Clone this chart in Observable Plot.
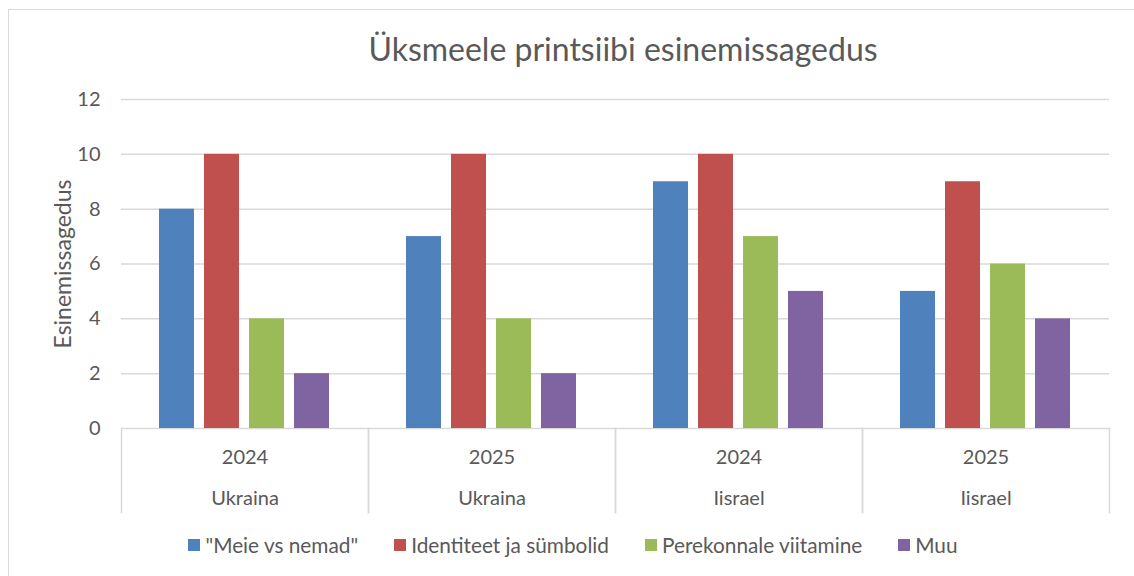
<!DOCTYPE html>
<html>
<head>
<meta charset="utf-8">
<script src="https://cdn.jsdelivr.net/npm/d3@7"></script>
<script src="https://cdn.jsdelivr.net/npm/@observablehq/plot@0.6"></script>
<style>
  html, body { margin: 0; padding: 0; background: #fff; }
  #wrap { position: relative; width: 1134px; height: 576px; overflow: hidden; font-family: Lato, "Open Sans", sans-serif; color: #595959; }
  #border { position: absolute; left: 8px; top: 9px; width: 1300px; height: 700px; border: 1.5px solid #D9D9D9; box-sizing: border-box; }
  #title { position: absolute; left: 0; width: 1246px; top: 29px; text-align: center; font-size: 32px; color: #595959; }
  #chart { position: absolute; left: 0; top: 0; }
  #legend { position: absolute; left: 0; width: 1134px; top: 532px; display: flex; justify-content: center; gap: 36px; font-size: 20.8px; margin-left: 6px; }
  .item { display: flex; align-items: center; gap: 5px; }
  .sw { width: 12px; height: 12px; display: inline-block; }
</style>
</head>
<body>
<div id="wrap">
  <div id="border"></div>
  <div id="chart"></div>
  <div id="title">Üksmeele printsiibi esinemissagedus</div>
  <div id="legend"></div>
</div>
<script>
const years = ["2024", "2025", "2024", "2025"];
const countries = ["Ukraina", "Ukraina", "Iisrael", "Iisrael"];
const seriesNames = ["\"Meie vs nemad\"", "Identiteet ja sümbolid", "Perekonnale viitamine", "Muu"];
const seriesColors = ["#4F81BD", "#C0504D", "#9BBB59", "#8064A2"];
const meieVsNemad = [8, 7, 9, 5];
const identiteet = [10, 10, 10, 9];
const perekond = [4, 4, 7, 6];
const muu = [2, 2, 5, 4];
const yTicks = [0, 2, 4, 6, 8, 10, 12];

const seriesValues = [meieVsNemad, identiteet, perekond, muu];
const groups = years.map((y, i) => `${y}|${countries[i]}|${i}`);
const data = [];
groups.forEach((g, gi) => {
  seriesNames.forEach((s, si) => {
    data.push({group: g, series: s, value: seriesValues[si][gi]});
  });
});

const grid = "#D9D9D9";
const txt = "#595959";

const chart = Plot.plot({
  width: 1134,
  height: 576,
  marginTop: 99,
  marginBottom: 148,
  marginLeft: 120,
  marginRight: 24,
  style: {fontFamily: "Lato, 'Open Sans', sans-serif", fontSize: "20px", color: txt, background: "transparent"},
  fx: {domain: groups, padding: 0},
  x: {domain: seriesNames, paddingInner: 0.214, paddingOuter: 0.847},
  y: {domain: [0, 12]},
  color: {domain: seriesNames, range: seriesColors},
  marks: [
    Plot.gridY(yTicks, {stroke: grid, strokeOpacity: 1, strokeWidth: 1.5}),
    Plot.frame({anchor: "left", stroke: grid, strokeWidth: 1.5, insetTop: 329, insetBottom: -84}),
    Plot.frame({anchor: "right", stroke: grid, strokeWidth: 1.5, insetTop: 329, insetBottom: -84}),
    Plot.barY(data, {fx: "group", x: "series", y: "value", fill: "series"}),
    Plot.axisY(yTicks, {tickSize: 0, tickPadding: 21, fontSize: 20, fill: txt,
      label: null}),
    Plot.axisY({ticks: [], label: "Esinemissagedus", labelAnchor: "center", labelArrow: "none",
      labelOffset: 67, fontSize: 23, fill: txt}),
    Plot.axisX({ticks: [], label: null}),
    Plot.axisFx({anchor: "bottom", tickSize: 0, tickPadding: 21, label: null, fontSize: 20, fill: txt,
      tickFormat: d => d.split("|")[0]}),
    Plot.axisFx({anchor: "bottom", tickSize: 0, tickPadding: 62, label: null, fontSize: 20, fill: txt,
      tickFormat: d => d.split("|")[1]})
  ]
});
document.getElementById("chart").appendChild(chart);

const legend = document.getElementById("legend");
seriesNames.forEach((s, i) => {
  const it = document.createElement("div");
  it.className = "item";
  const sw = document.createElement("span");
  sw.className = "sw";
  sw.style.background = seriesColors[i];
  const t = document.createElement("span");
  t.textContent = s;
  it.appendChild(sw);
  it.appendChild(t);
  legend.appendChild(it);
});
</script>
</body>
</html>
